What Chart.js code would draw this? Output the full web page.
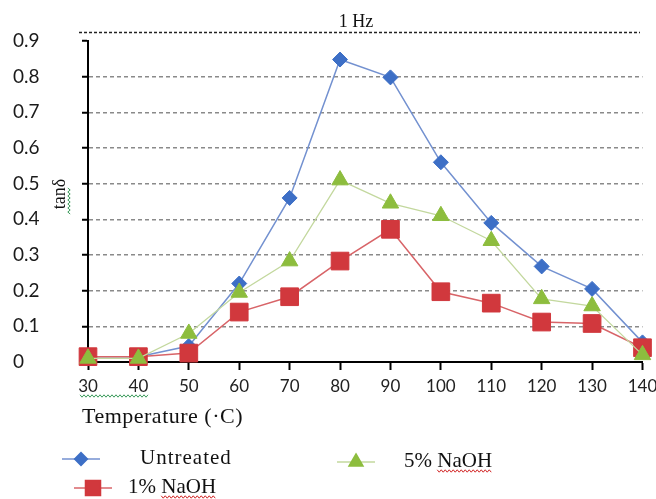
<!DOCTYPE html>
<html>
<head>
<meta charset="utf-8">
<script src="https://cdn.jsdelivr.net/npm/chart.js@4"></script>
<style>
  body { margin: 0; background: #fff; }
  #wrap { width: 656px; height: 499px; }
</style>
</head>
<body>
<div id="wrap"><canvas id="dmaChart" width="656" height="499"></canvas></div>
<script>
// temperatures (deg C) on the x axis
const temps = ['30', '40', '50', '60', '70', '80', '90', '100', '110', '120', '130', '140'];
// tan delta at 1 Hz
const untreated = [0.015, 0.015, 0.045, 0.22, 0.46, 0.848, 0.798, 0.56, 0.39, 0.268, 0.205, 0.055];
const naoh1 = [0.015, 0.015, 0.025, 0.14, 0.183, 0.283, 0.372, 0.197, 0.165, 0.112, 0.108, 0.04];
const naoh5 = [0.01, 0.01, 0.08, 0.195, 0.283, 0.51, 0.445, 0.41, 0.34, 0.177, 0.157, 0.02];
const yLabels = ['0', '0.1', '0.2', '0.3', '0.4', '0.5', '0.6', '0.7', '0.8', '0.9'];

const serif = '"Liberation Serif", "Times New Roman", serif';

function squiggle(ctx, x1, x2, y, color, vertical) {
    ctx.save();
    ctx.strokeStyle = color;
    ctx.lineWidth = 1;
    ctx.beginPath();
    let up = true;
    for (let p = x1; p <= x2; p += 2) {
        let q = y + (up ? -1.2 : 1.2);
        if (vertical) {
            p === x1 ? ctx.moveTo(q, p) : ctx.lineTo(q, p);
        } else {
            p === x1 ? ctx.moveTo(p, q) : ctx.lineTo(p, q);
        }
        up = !up;
    }
    ctx.stroke();
    ctx.restore();
}

const decorations = {
    id: 'decorations',
    afterDraw(chart) {
        const ctx = chart.ctx;
        const area = chart.chartArea;
        ctx.save();

        // title + dotted top line
        ctx.fillStyle = '#111';
        ctx.font = '18px ' + serif;
        ctx.textAlign = 'center';
        ctx.textBaseline = 'middle';
        ctx.fillText('1 Hz', 356, 22);

        ctx.strokeStyle = '#222';
        ctx.lineWidth = 1.5;
        ctx.setLineDash([3, 2]);
        ctx.beginPath();
        ctx.moveTo(79, 32.5);
        ctx.lineTo(640, 32.5);
        ctx.stroke();
        ctx.setLineDash([]);

        // y axis title, between the tick labels and the axis
        ctx.save();
        ctx.translate(area.left - 28, 194);
        ctx.rotate(-Math.PI / 2);
        ctx.font = '18px ' + serif;
        ctx.fillText('tan\u03B4', 0, 0);
        ctx.restore();
        squiggle(ctx, 188, 214, area.left - 19, '#3a9a5a', true);

        // x axis title
        ctx.textAlign = 'left';
        ctx.font = '22px ' + serif;
        ctx.letterSpacing = '0.5px';
        ctx.fillText('Temperature (\u00B7C)', 82, 417);
        ctx.letterSpacing = '0px';
        squiggle(ctx, 80, 148, 396, '#3a9a5a');

        // legend
        const items = [
            { ds: 0, lx: 62, y: 459, tx: 140, text: 'Untreated', wavy: null, sp: '1px' },
            { ds: 1, lx: 74, y: 488, tx: 128, text: '1% NaOH', wavy: '1% ', sp: '0px' },
            { ds: 2, lx: 337, y: 462, tx: 404, text: '5% NaOH', wavy: '5% ', sp: '0px' }
        ];
        items.forEach(it => {
            const ds = chart.data.datasets[it.ds];
            ctx.strokeStyle = ds.borderColor;
            ctx.lineWidth = 1.5;
            ctx.beginPath();
            ctx.moveTo(it.lx, it.y);
            ctx.lineTo(it.lx + 38, it.y);
            ctx.stroke();
            ctx.fillStyle = ds.pointBackgroundColor;
            ctx.strokeStyle = ds.pointBorderColor;
            Chart.helpers.drawPoint(ctx, {
                pointStyle: ds.pointStyle,
                radius: ds.pointRadius * 0.85,
                rotation: 0,
                borderWidth: 1
            }, it.lx + 19, it.y);

            ctx.fillStyle = '#111';
            ctx.font = '21px ' + serif;
            ctx.textBaseline = 'middle';
            ctx.letterSpacing = it.sp;
            ctx.fillText(it.text, it.tx, it.y - 1);
            if (it.wavy) {
                const start = it.tx + ctx.measureText(it.wavy).width;
                const end = it.tx + ctx.measureText(it.text).width;
                squiggle(ctx, start, end, it.y + 9, '#d02020');
            }
            ctx.letterSpacing = '0px';
        });
        ctx.restore();
    }
};

new Chart(document.getElementById('dmaChart'), {
    type: 'line',
    data: {
        labels: temps,
        datasets: [
            {
                label: 'Untreated',
                data: untreated,
                borderColor: '#7391d0',
                borderWidth: 1.5,
                pointStyle: 'rectRot',
                pointRadius: 7.5,
                pointBackgroundColor: '#3d6fc6',
                pointBorderColor: '#3d6fc6',
                pointBorderWidth: 1,
                order: 2,
                clip: false
            },
            {
                label: '1% NaOH',
                data: naoh1,
                borderColor: '#d86468',
                borderWidth: 1.5,
                pointStyle: 'rect',
                pointRadius: 12.5,
                pointBackgroundColor: '#d1383d',
                pointBorderColor: '#d1383d',
                pointBorderWidth: 1,
                order: 1,
                clip: false
            },
            {
                label: '5% NaOH',
                data: naoh5,
                borderColor: '#c3d89e',
                borderWidth: 1.3,
                pointStyle: 'triangle',
                pointRadius: 9.5,
                pointBackgroundColor: '#8dbd3e',
                pointBorderColor: '#8dbd3e',
                pointBorderWidth: 1,
                order: 0,
                clip: false
            }
        ]
    },
    options: {
        responsive: false,
        animation: false,
        layout: {
            padding: { left: 13, right: 8, top: 41, bottom: 69 }
        },
        plugins: {
            legend: { display: false },
            title: { display: false },
            tooltip: { enabled: false }
        },
        scales: {
            x: {
                type: 'category',
                offset: false,
                afterFit: function (s) {
                    s.height = 68;
                    s.paddingRight = 0;
                    s.paddingLeft = 0;
                },
                grid: {
                    drawOnChartArea: false,
                    drawTicks: true,
                    tickLength: 8,
                    tickColor: '#000',
                    tickWidth: 2
                },
                border: { color: '#000', width: 2 },
                ticks: {
                    color: '#222',
                    padding: 6,
                    maxRotation: 0,
                    autoSkip: false,
                    font: { family: 'Lato', size: 17 }
                }
            },
            y: {
                min: 0,
                max: 0.9,
                afterFit: function (s) {
                    s.width = 75;
                },
                grid: {
                    color: function (c) {
                        return (c.index === 0 || c.index === yLabels.length - 1) ? 'rgba(0,0,0,0)' : '#8a8a8a';
                    },
                    lineWidth: 1.5,
                    tickLength: 6,
                    tickColor: '#000',
                    tickWidth: 2
                },
                border: { color: '#000', width: 2, dash: [4, 3] },
                ticks: {
                    stepSize: 0.1,
                    crossAlign: 'far',
                    color: '#1a1a1a',
                    font: { family: 'Lato', size: 19 },
                    callback: function (v, i) {
                        return yLabels[i];
                    }
                }
            }
        }
    },
    plugins: [decorations]
});
</script>
</body>
</html>
